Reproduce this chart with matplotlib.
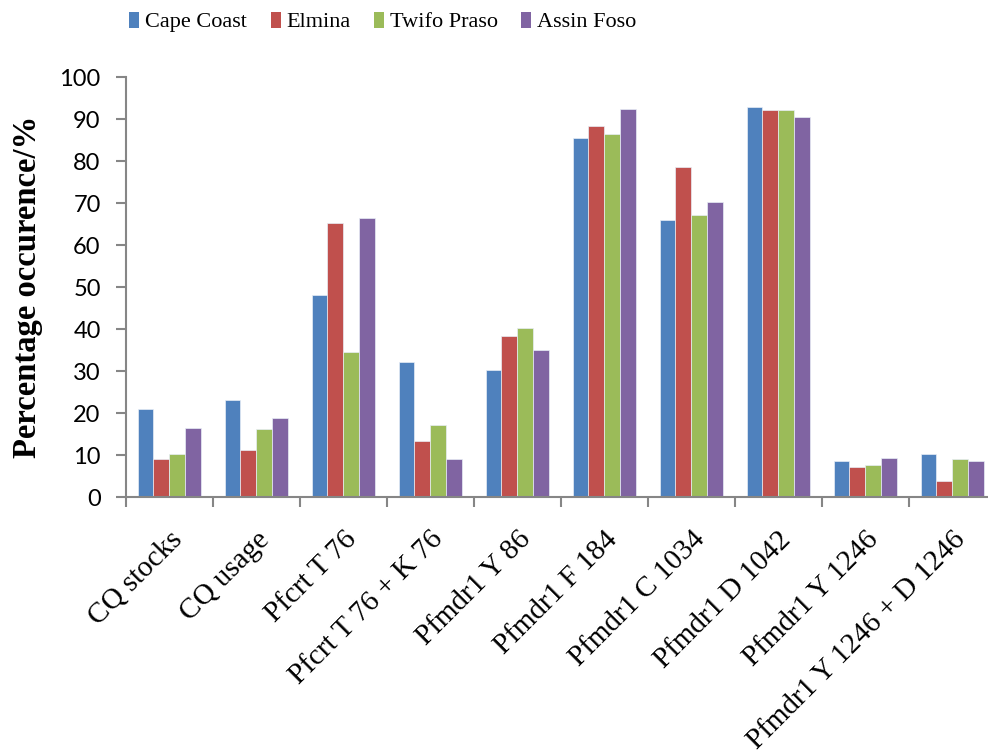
import matplotlib
matplotlib.use("Agg")
import matplotlib.pyplot as plt
import numpy as np
from matplotlib.patches import Patch

categories = ["CQ stocks", "CQ usage", "Pfcrt T 76", "Pfcrt T 76 + K 76", "Pfmdr1 Y 86",
              "Pfmdr1 F 184", "Pfmdr1 C 1034", "Pfmdr1 D 1042", "Pfmdr1 Y 1246",
              "Pfmdr1 Y 1246 + D 1246"]
series_names = ["Cape Coast", "Elmina", "Twifo Praso", "Assin Foso"]
cape_coast = [21.0, 23.1, 48.1, 32.3, 30.2, 85.6, 66.0, 92.9, 8.7, 10.3]
elmina = [9.0, 11.3, 65.2, 13.3, 38.4, 88.4, 78.7, 92.2, 7.1, 3.9]
twifo_praso = [10.4, 16.3, 34.5, 17.1, 40.3, 86.5, 67.2, 92.2, 7.8, 9.1]
assin_foso = [16.5, 18.8, 66.6, 9.2, 35.1, 92.5, 70.3, 90.6, 9.3, 8.7]
yticks = [0, 10, 20, 30, 40, 50, 60, 70, 80, 90, 100]

colors = ["#4F81BD", "#C0504D", "#9BBB59", "#8064A2"]
series = [cape_coast, elmina, twifo_praso, assin_foso]

fig = plt.figure(figsize=(9.88, 7.52), dpi=100)
ax = fig.add_axes([125.7 / 988, 1 - 497.3 / 752, 870 / 988, 420 / 752])

x = np.arange(len(categories)) + 0.5
w = 0.182
for i, (vals, c) in enumerate(zip(series, colors)):
    ax.bar(x + (i - 1.5) * w, vals, width=w, color=c, edgecolor="#E8EEF6",
           linewidth=0.5, label=series_names[i], zorder=2)

ax.set_xlim(0, len(categories))
ax.set_ylim(0, 100)
ax.set_yticks(yticks)
ax.set_yticklabels([str(t) for t in yticks], fontfamily="Lato", fontsize=17)
ax.set_xticks(np.arange(len(categories) + 1))
ax.set_xticklabels([])
ax.set_xticks(x, minor=True)
ax.set_xticklabels(categories, minor=True, rotation=45, ha="right", va="top",
                   rotation_mode="anchor", fontfamily="Liberation Serif", fontsize=21)
ax.tick_params(axis="x", which="minor", length=0, pad=21)
ax.tick_params(axis="x", which="major", length=7, width=1.5, color="#868686", direction="out")
ax.tick_params(axis="y", length=7, width=1.5, color="#868686", direction="out", pad=11)

for s in ["top", "right"]:
    ax.spines[s].set_visible(False)
for s in ["left", "bottom"]:
    ax.spines[s].set_color("#868686")
    ax.spines[s].set_linewidth(1.5)

ax.set_ylabel("Percentage occurence/%", fontfamily="Liberation Serif", fontweight="bold",
              fontsize=23.5, labelpad=12)

handles = [Patch(facecolor=c, edgecolor="none") for c in colors]
fig.legend(handles, series_names, loc="center", bbox_to_anchor=(383 / 988, 1 - 22 / 752),
           ncol=4, frameon=False, prop={"family": "Liberation Serif", "size": 16},
           handlelength=0.45, handleheight=0.72, handletextpad=0.27, columnspacing=1.05,
           borderaxespad=0)

fig.savefig("out.png", dpi=100)
